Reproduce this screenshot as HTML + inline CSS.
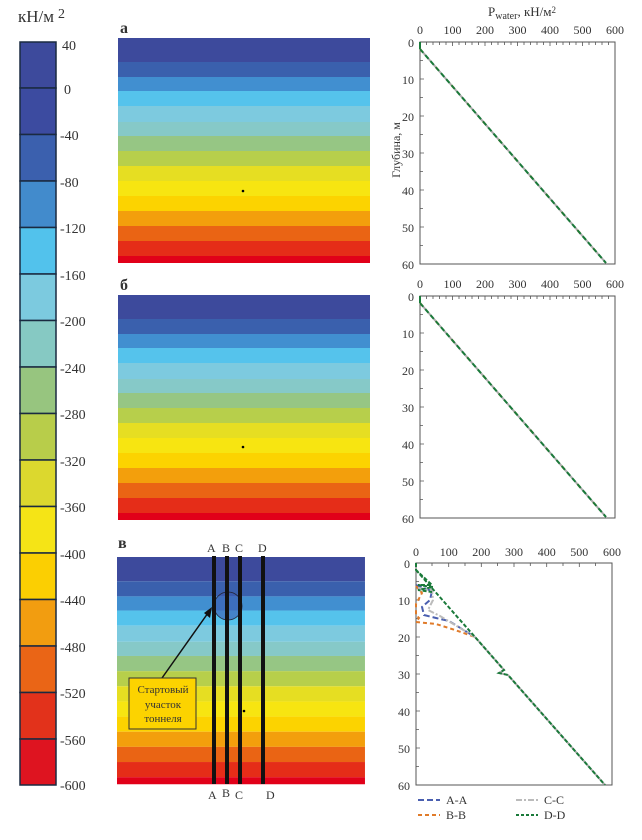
<!DOCTYPE html>
<html><head><meta charset="utf-8"><style>
body{margin:0;background:#fff;width:642px;height:840px;overflow:hidden}
svg{display:block}
text{font-family:"Liberation Serif",serif;fill:#333}
</style></head><body>
<svg width="642" height="840" xmlns="http://www.w3.org/2000/svg">
<defs>
<g id="map">
<rect x="0" y="0" width="252" height="24" fill="#3d4a9c"/>
<rect x="0" y="24" width="252" height="15" fill="#3a60ad"/>
<rect x="0" y="39" width="252" height="14" fill="#418fd0"/>
<rect x="0" y="53" width="252" height="15" fill="#55c3ec"/>
<rect x="0" y="68" width="252" height="16" fill="#7dcadf"/>
<rect x="0" y="84" width="252" height="14" fill="#86c9c8"/>
<rect x="0" y="98" width="252" height="15" fill="#96c684"/>
<rect x="0" y="113" width="252" height="15" fill="#b7cf4b"/>
<rect x="0" y="128" width="252" height="15" fill="#e6de22"/>
<rect x="0" y="143" width="252" height="15" fill="#f7e511"/>
<rect x="0" y="158" width="252" height="15" fill="#fcd300"/>
<rect x="0" y="173" width="252" height="15" fill="#f39f0c"/>
<rect x="0" y="188" width="252" height="15" fill="#ea6414"/>
<rect x="0" y="203" width="252" height="15" fill="#e52d18"/>
<rect x="0" y="218" width="252" height="7" fill="#e10019"/>
</g>
</defs>

<!-- colorbar -->
<text x="18" y="22" font-size="17">кН/м</text><text x="58" y="18" font-size="14">2</text>
<g stroke="#1a2a40" stroke-width="1.5">
<rect x="20" y="42" width="36" height="46" fill="#3d4a9c"/>
<rect x="20" y="88" width="36" height="46.5" fill="#3c4ba0"/>
<rect x="20" y="134.5" width="36" height="46.5" fill="#3b60ae"/>
<rect x="20" y="181" width="36" height="46.5" fill="#428bcc"/>
<rect x="20" y="227.5" width="36" height="46.5" fill="#52c2ec"/>
<rect x="20" y="274" width="36" height="46.5" fill="#7ccadf"/>
<rect x="20" y="320.5" width="36" height="46.5" fill="#86c9c3"/>
<rect x="20" y="367" width="36" height="46.5" fill="#97c57f"/>
<rect x="20" y="413.5" width="36" height="46.5" fill="#b8cd4a"/>
<rect x="20" y="460" width="36" height="46.5" fill="#dcd82e"/>
<rect x="20" y="506.5" width="36" height="46.5" fill="#f5e416"/>
<rect x="20" y="553" width="36" height="46.5" fill="#fbcf02"/>
<rect x="20" y="599.5" width="36" height="46.5" fill="#f29d10"/>
<rect x="20" y="646" width="36" height="46.5" fill="#ea6516"/>
<rect x="20" y="692.5" width="36" height="46.5" fill="#e2321b"/>
<rect x="20" y="739" width="36" height="46" fill="#de1420"/>
</g>
<g font-size="14">
<text x="62" y="50">40</text><text x="64" y="94">0</text>
<text x="60" y="140">-40</text><text x="60" y="187">-80</text>
<text x="60" y="233">-120</text><text x="60" y="280">-160</text>
<text x="60" y="326">-200</text><text x="60" y="373">-240</text>
<text x="60" y="419">-280</text><text x="60" y="466">-320</text>
<text x="60" y="512">-360</text><text x="60" y="559">-400</text>
<text x="60" y="605">-440</text><text x="60" y="652">-480</text>
<text x="60" y="698">-520</text><text x="60" y="745">-560</text>
<text x="60" y="790">-600</text>
</g>

<!-- maps -->
<text x="120" y="33" font-size="16" font-weight="bold">а</text>
<use href="#map" x="118" y="38"/>
<circle cx="243" cy="191" r="1.3" fill="#000"/>
<text x="120" y="290" font-size="16" font-weight="bold">б</text>
<use href="#map" x="118" y="295"/>
<circle cx="243" cy="447" r="1.3" fill="#000"/>
<text x="118" y="548" font-size="16" font-weight="bold">в</text>
<use href="#map" x="117" y="557" transform="translate(117,557) scale(0.984,1.01) translate(-117,-557)"/>
<circle cx="228" cy="606" r="14" fill="#3a58b0" fill-opacity="0.6" stroke="#223" stroke-width="0.8"/>
<circle cx="244" cy="711" r="1.3" fill="#000"/>
<g stroke="#111" stroke-width="4">
<line x1="214" y1="556" x2="214" y2="784"/><line x1="227" y1="556" x2="227" y2="784"/>
<line x1="240" y1="556" x2="240" y2="784"/><line x1="263" y1="556" x2="263" y2="784"/>
</g>
<g font-size="12"><text x="207" y="552">A</text><text x="222" y="552">B</text><text x="235" y="552">C</text><text x="258" y="552">D</text>
<text x="208" y="799">A</text><text x="222" y="797">B</text><text x="235" y="799">C</text><text x="266" y="799">D</text></g>
<line x1="162" y1="678" x2="208" y2="613" stroke="#111" stroke-width="1.5"/>
<polygon points="212,607 210,618 204,613" fill="#111"/>
<rect x="129" y="678" width="67" height="51" fill="#fcd300" stroke="#333" stroke-width="1"/>
<g font-size="11" text-anchor="middle" fill="#222"><text x="163" y="693">Стартовый</text><text x="163" y="708">участок</text><text x="163" y="722">тоннеля</text></g>

<!-- chart a -->
<text x="488" y="16" font-size="13">P<tspan font-size="10" dy="3">water</tspan><tspan dy="-3">, кН/м</tspan><tspan font-size="9" dy="-3">2</tspan></text>
<text x="400" y="150" font-size="12" transform="rotate(-90 400 150)" text-anchor="middle">Глубина, м</text>
<g id="chA">
<rect x="420" y="42" width="195" height="222" fill="none" stroke="#555" stroke-width="1"/>
<g font-size="12" text-anchor="middle">
<text x="420" y="34">0</text><text x="452.5" y="34">100</text><text x="485" y="34">200</text><text x="517.5" y="34">300</text><text x="550" y="34">400</text><text x="582.5" y="34">500</text><text x="615" y="34">600</text>
</g>
<g font-size="12" text-anchor="end">
<text x="414" y="47">0</text><text x="414" y="84">10</text><text x="414" y="121">20</text><text x="414" y="158">30</text><text x="414" y="195">40</text><text x="414" y="232">50</text><text x="414" y="269">60</text>
</g>
<path d="M420 42v4M426.5 42v3M433 42v3M439.5 42v3M446 42v3M452.5 42v4M459 42v3M465.5 42v3M472 42v3M478.5 42v3M485 42v4M491.5 42v3M498 42v3M504.5 42v3M511 42v3M517.5 42v4M524 42v3M530.5 42v3M537 42v3M543.5 42v3M550 42v4M556.5 42v3M563 42v3M569.5 42v3M576 42v3M582.5 42v4M589 42v3M595.5 42v3M602 42v3M608.5 42v3
M420 79h4M420 116h4M420 153h4M420 190h4M420 227h4M420 60.5h3M420 97.5h3M420 134.5h3M420 171.5h3M420 208.5h3M420 245.5h3" stroke="#555" stroke-width="0.8"/>
<line x1="420" y1="42" x2="420" y2="49" stroke="#1a7a3a" stroke-width="2"/>
<line x1="420" y1="49" x2="606" y2="263" stroke="#aaa" stroke-width="2"/>
<line x1="420" y1="49" x2="606" y2="263" stroke="#e07b2a" stroke-width="2" stroke-dasharray="4 20"/>
<line x1="420" y1="49" x2="606" y2="263" stroke="#1a7a3a" stroke-width="2" stroke-dasharray="5 3"/>
</g>
<use href="#chA" x="0" y="254"/>

<!-- chart c -->
<g>
<rect x="416" y="563" width="196" height="222" fill="none" stroke="#555" stroke-width="1"/>
<g font-size="12" text-anchor="middle">
<text x="416" y="556">0</text><text x="448.7" y="556">100</text><text x="481.3" y="556">200</text><text x="514" y="556">300</text><text x="546.7" y="556">400</text><text x="579.3" y="556">500</text><text x="612" y="556">600</text>
</g>
<g font-size="12" text-anchor="end">
<text x="410" y="568">0</text><text x="410" y="605">10</text><text x="410" y="642">20</text><text x="410" y="679">30</text><text x="410" y="716">40</text><text x="410" y="753">50</text><text x="410" y="790">60</text>
</g>
<path d="M416 563v4M448.7 563v4M481.3 563v4M514 563v4M546.7 563v4M579.3 563v4M432 563v3M465 563v3M497.6 563v3M530.3 563v3M563 563v3M595.6 563v3
M416 600h4M416 637h4M416 674h4M416 711h4M416 748h4M416 581.5h3M416 618.5h3M416 655.5h3M416 692.5h3M416 729.5h3M416 766.5h3" stroke="#555" stroke-width="0.8"/>
<g fill="none" stroke-width="2">
<polyline points="416,585 432,591 430,600 422,607 424,615 436,618 449,621 475,637" stroke="#4a5fb0" stroke-dasharray="6 3"/>
<polyline points="416,586 422,593 416,604 416,615 419,618 416,622 436,624 455,630 475,637" stroke="#e07b2a" stroke-dasharray="4 3"/>
<polyline points="418,588 432,590 433,600 428,610 440,616 475,637" stroke="#bbb" stroke-dasharray="6 2 2 2"/>
<polyline points="475,637 504,670 499,673 508,675 605,785" stroke="#aaa"/>
<polyline points="416,563 416,570 432,585 418,585 433,587 418,590 432,592" stroke="#1a7a3a" stroke-dasharray="4 2"/>
<polyline points="416,570 475,637 504,670 499,673 508,675 605,785" stroke="#1a7a3a" stroke-dasharray="4 2"/>
</g>
<g font-size="12">
<line x1="418" y1="800" x2="440" y2="800" stroke="#4a5fb0" stroke-width="2" stroke-dasharray="6 3"/><text x="446" y="804">A-A</text>
<line x1="418" y1="815" x2="440" y2="815" stroke="#e07b2a" stroke-width="2" stroke-dasharray="4 3"/><text x="446" y="819">B-B</text>
<line x1="516" y1="800" x2="538" y2="800" stroke="#bbb" stroke-width="2" stroke-dasharray="6 2 2 2"/><text x="544" y="804">C-C</text>
<line x1="516" y1="815" x2="538" y2="815" stroke="#1a7a3a" stroke-width="2" stroke-dasharray="3 2"/><text x="544" y="819">D-D</text>
</g>
</g>
</svg>
</body></html>
